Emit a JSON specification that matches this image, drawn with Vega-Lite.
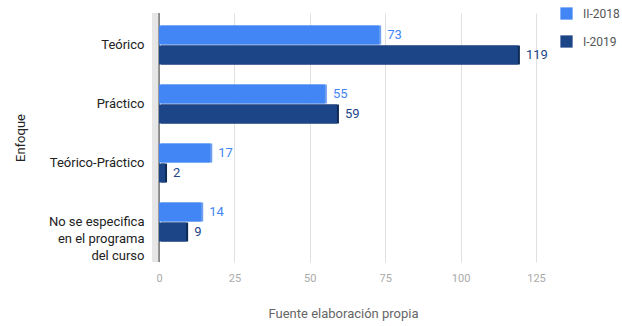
{
  "$schema": "https://vega.github.io/schema/vega-lite/v6.json",
  "width": 377,
  "height": 249,
  "autosize": "none",
  "padding": {"left": 159, "top": 13, "right": 86, "bottom": 64},
  "background": "white",
  "config": {"view": {"stroke": null}, "font": "Roboto"},
  "data": {"values": [
    {"enfoque": "Teórico", "periodo": "II-2018", "valor": 73},
    {"enfoque": "Teórico", "periodo": "I-2019", "valor": 119},
    {"enfoque": "Práctico", "periodo": "II-2018", "valor": 55},
    {"enfoque": "Práctico", "periodo": "I-2019", "valor": 59},
    {"enfoque": "Teórico-Práctico", "periodo": "II-2018", "valor": 17},
    {"enfoque": "Teórico-Práctico", "periodo": "I-2019", "valor": 2},
    {"enfoque": "No se especifica|en el programa|del curso", "periodo": "II-2018", "valor": 14},
    {"enfoque": "No se especifica|en el programa|del curso", "periodo": "I-2019", "valor": 9}
  ]},
  "encoding": {
    "y": {"field": "enfoque", "type": "nominal", "sort": null,
      "scale": {"paddingInner": 0.34, "paddingOuter": 0.28, "align": 0.38},
      "axis": {"title": "Enfoque", "titleFont": "Roboto", "titleFontSize": 13, "titleFontWeight": "normal", "titleColor": "#222", "titlePadding": 21,
        "labelExpr": "split(datum.label, '|')", "labelFontSize": 13, "labelColor": "#222", "labelPadding": 15,
        "ticks": false, "domain": false, "labelLineHeight": 17}},
    "yOffset": {"field": "periodo", "type": "nominal", "sort": ["II-2018", "I-2019"], "scale": {"paddingInner": 0.05}},
    "x": {"field": "valor", "type": "quantitative", "scale": {"domain": [0, 125], "nice": false},
      "axis": {"values": [0, 25, 50, 75, 100, 125], "labelFlush": false, "title": "Fuente elaboración propia", "titleFont": "Roboto", "titleFontSize": 13, "titleFontWeight": "normal", "titleColor": "#666", "titlePadding": 24, "titleX": 184,
        "labelColor": "#aaa", "labelFontSize": 11, "labelPadding": 10, "ticks": false, "domain": false, "gridColor": "#e0e0e0", "zindex": 0}}
  },
  "layer": [
    {"mark": {"type": "rule", "color": "#e6e6e6", "strokeWidth": 6, "xOffset": -4},
      "data": {"values": [{"z": 0}]},
      "encoding": {"x": {"field": "z", "type": "quantitative"}, "y": null, "yOffset": null}},
    {"mark": {"type": "rule", "color": "#333", "strokeWidth": 1},
      "data": {"values": [{"z": 0}]},
      "encoding": {"x": {"field": "z", "type": "quantitative"}, "y": null, "yOffset": null}},
    {"transform": [{"filter": "datum.periodo == 'II-2018'"}],
      "mark": {"type": "bar", "xOffset": 2, "yOffset": 2, "color": "#6d9ff0"}},
    {"transform": [{"filter": "datum.periodo == 'I-2019'"}],
      "mark": {"type": "bar", "xOffset": 2, "yOffset": 3, "color": "#0f2a57"}},
    {"mark": {"type": "bar"},
      "encoding": {"color": {"field": "periodo", "type": "nominal", "sort": ["II-2018", "I-2019"],
        "scale": {"domain": ["II-2018", "I-2019"], "range": ["#4285f4", "#1c4587"]},
        "legend": {"orient": "none", "legendX": 401, "legendY": -6, "title": null, "symbolType": "square", "symbolSize": 150, "symbolStrokeWidth": 0, "labelFontSize": 12, "labelColor": "#555", "rowPadding": 15, "labelOffset": 10}}}},
    {"mark": {"type": "text", "align": "left", "dx": 8, "fontSize": 13, "baseline": "middle"},
      "encoding": {"text": {"field": "valor", "type": "quantitative"},
        "color": {"field": "periodo", "type": "nominal", "legend": null}}}
  ]
}
